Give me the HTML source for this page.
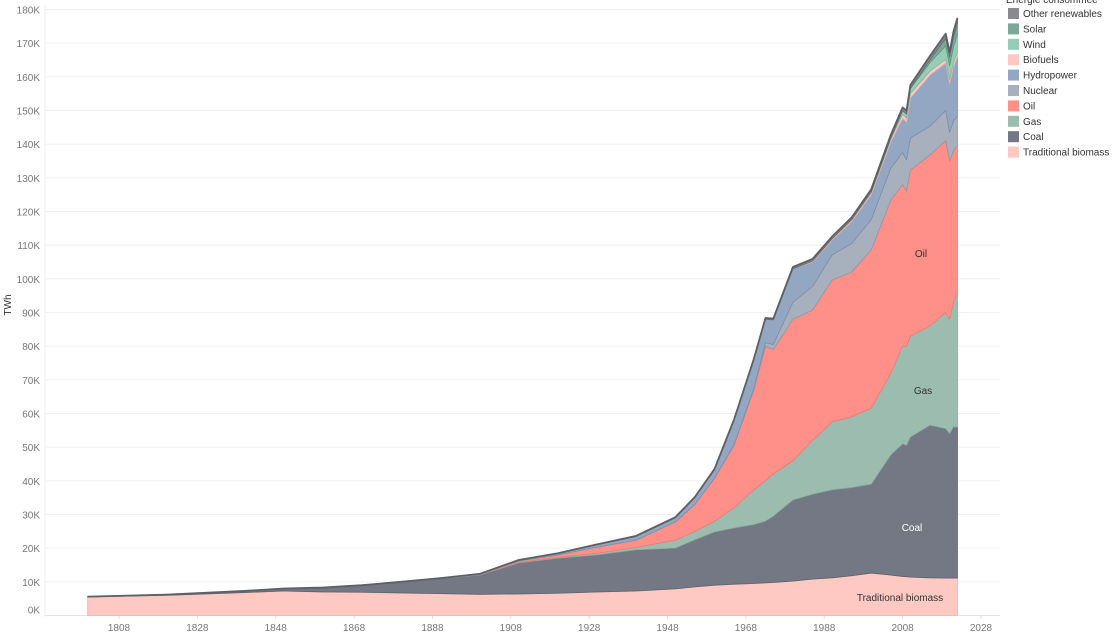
<!DOCTYPE html>
<html><head><meta charset="utf-8">
<style>
body{margin:0;background:#fff;font-family:"Liberation Sans",sans-serif;}
svg text{font-family:"Liberation Sans",sans-serif;}
</style></head>
<body>
<svg id="chart" width="1114" height="638" viewBox="0 0 1114 638" xmlns="http://www.w3.org/2000/svg">
<g id="grid"></g>
<g id="areas"></g>
<g id="xaxis"></g>
<g id="yaxis"></g>
<text x="11" y="305" font-size="10" fill="#333" transform="rotate(-90 11 305)" text-anchor="middle">TWh</text>
<g id="labels"></g>
<g id="legend"></g>
</svg>
<script>
const years=[1800,1820,1840,1850,1860,1870,1880,1890,1900,1910,1920,1930,1940,1950,1955,1960,1965,1970,1973,1975,1980,1985,1990,1995,2000,2005,2008,2009,2010,2015,2019,2020,2021,2022];
const biomass=[5.5,6,6.8,7.3,7.0,6.9,6.7,6.5,6.3,6.4,6.6,7.0,7.3,7.9,8.5,9.0,9.3,9.5,9.7,9.8,10.2,10.8,11.2,11.8,12.6,12.0,11.6,11.5,11.4,11.2,11.1,11.1,11.1,11.1];
const coal=[0.1,0.2,0.5,0.7,1.3,2.1,3.3,4.5,5.7,9.2,10.4,11.0,12.2,12.1,14.0,15.8,16.7,17.5,18.3,19.7,24.1,25.2,26.1,26.2,26.4,35.7,39.4,39.0,41.6,45.3,44.4,42.9,44.9,44.9];
const gas=[0,0,0,0,0,0,0,0.1,0.1,0.2,0.3,0.5,0.7,2.4,2.5,3.2,6.0,10.3,12.0,12.5,11.7,16.0,20.2,21.0,22.6,24.3,29.0,29.5,30.0,29.5,34.5,34.0,37.0,40.0];
const oil=[0,0,0,0,0,0,0,0,0.1,0.4,0.7,1.8,2.2,5.4,8.0,12.8,18.6,29.6,40.0,37.0,42.0,38.7,42.1,43.0,47.0,51.4,48.0,46.0,49.3,50.8,51.0,47.0,45.0,43.7];
const nuclear=[0,0,0,0,0,0,0,0,0,0,0,0,0,0,0,0,0.2,0.4,1.0,1.5,5.0,7.0,7.5,8.5,9.0,9.5,9.5,9.3,9.5,8.5,9.0,8.5,9.0,8.5];
const hydro=[0,0,0,0,0,0,0,0,0.1,0.2,0.4,0.7,1.1,1.2,2.0,2.5,7.2,8.5,7.0,7.3,10.0,7.3,4.4,6.5,7.4,7.7,10.2,11.2,11.9,15.2,14.0,14.5,16.0,17.8];
const biofuels=[0,0,0,0,0,0,0,0,0,0,0,0,0,0,0,0,0,0,0,0,0,0.3,0.4,0.5,0.6,0.8,1.2,1.2,1.3,1.2,1.2,1.1,1.2,1.3];
const wind=[0,0,0,0,0,0,0,0,0,0,0,0,0,0,0,0,0,0,0,0,0,0,0,0.05,0.2,0.5,1.0,1.2,1.5,2.5,4.0,4.2,4.8,5.2];
const solar=[0,0,0,0,0,0,0,0,0,0,0,0,0,0,0,0,0,0,0,0,0,0,0,0,0,0,0.05,0.07,0.1,0.8,2.2,2.6,3.0,3.5];
const otherRen=[0,0,0,0,0,0,0,0,0.05,0.08,0.1,0.12,0.15,0.2,0.22,0.25,0.28,0.3,0.35,0.4,0.5,0.6,0.65,0.7,0.8,0.9,0.95,0.95,1.0,1.2,1.4,1.4,1.5,1.5];
const yTicks=[0,10,20,30,40,50,60,70,80,90,100,110,120,130,140,150,160,170,180];
const xTicks=[1808,1828,1848,1868,1888,1908,1928,1948,1968,1988,2008,2028];
const seriesNames=["Traditional biomass","Coal","Gas","Oil","Nuclear","Hydropower","Biofuels","Wind","Solar","Other renewables"];

const NS="http://www.w3.org/2000/svg";
const colors=["#fec8c3","#737884","#9dbcb0","#fe8f89","#a9b0bd","#94a7c2","#fdc7c2","#96cdb6","#7aa997","#8a8a8e"];
const strokes=["#f2b0aa","#5f636d","#86a79a","#ef7b75","#8f97a6","#7a8eab","#f0b0aa","#7fb9a0","#65927f","#6a6a6e"];
const series=[biomass,coal,gas,oil,nuclear,hydro,biofuels,wind,solar,otherRen];
const X=yr=>119+(yr-1808)*3.918;
const Y=v=>615.5-v*3.367;
function mk(tag,attrs,parent){const e=document.createElementNS(NS,tag);for(const k in attrs)e.setAttribute(k,attrs[k]);parent.appendChild(e);return e;}

const grid=document.getElementById('grid'),yax=document.getElementById('yaxis'),xax=document.getElementById('xaxis');
mk('line',{x1:45,y1:5,x2:45,y2:617,stroke:'#eee','stroke-width':1},grid);
yTicks.forEach(t=>{
  const l=mk('line',{x1:45,x2:1000,y1:Y(t),y2:Y(t),stroke:t===0?'#e4e4e4':'#f0f0f0','stroke-width':1},grid);
  
  
  const tx=mk('text',{x:40,y:Y(t)+(t===0?-2:4),'font-size':10,fill:'#777','text-anchor':'end'},yax);
  tx.textContent=t+'K';
  
  
});
xTicks.forEach(t=>{
  mk('line',{x1:X(t),x2:X(t),y1:615.5,y2:619,stroke:'#ddd'},xax);
  const tx=mk('text',{x:X(t),y:631,'font-size':10,fill:'#777','text-anchor':'middle'},xax);
  tx.textContent=t;
  
  
});

const areas=document.getElementById('areas');
let base=years.map(()=>0);
series.forEach((s,i)=>{
  const top=base.map((b,j)=>b+s[j]);
  let d='M'+X(years[0])+','+Y(top[0]);
  for(let j=1;j<years.length;j++)d+='L'+X(years[j])+','+Y(top[j]);
  for(let j=years.length-1;j>=0;j--)d+='L'+X(years[j])+','+Y(base[j]);
  d+='Z';
  const p=mk('path',{d:d,fill:colors[i],stroke:strokes[i],'stroke-width':0.8,'stroke-linejoin':'round'},areas);
  
  
  base=top;
});
let td='M'+X(years[0])+','+Y(base[0]);
for(let j=1;j<years.length;j++)td+='L'+X(years[j])+','+Y(base[j]);
const tl=mk('path',{d:td,fill:'none',stroke:'#5d6066','stroke-width':1.8,'stroke-linejoin':'round'},areas);



const labels=document.getElementById('labels');
[["Oil",921,257,"#333"],["Gas",923,394,"#333"],["Coal",912,531,"#fff"],["Traditional biomass",900,601,"#333"]].forEach(l=>{
  const t=mk('text',{x:l[1],y:l[2],'font-size':10,fill:l[3],'text-anchor':'middle'},labels);
  t.textContent=l[0];
  
  
});

const lg=document.getElementById('legend');
const lt=mk('text',{x:1006,y:3,'font-size':10,fill:'#333'},lg);
lt.textContent='Energie consommée';


for(let k=0;k<10;k++){
  const i=9-k;
  const yy=8+k*15.4;
  const g=mk('g',{},lg);
  
  
  mk('rect',{x:1008,y:yy,width:11,height:11,fill:colors[i]},g);
  const t=mk('text',{x:1023,y:yy+9,'font-size':10,fill:'#333'},g);
  t.textContent=seriesNames[i];
}
</script>
</body></html>
